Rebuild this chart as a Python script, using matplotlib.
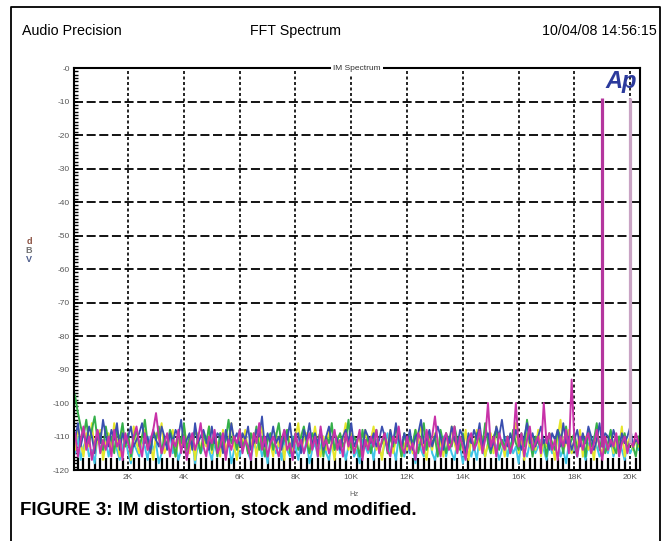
import numpy as np
import matplotlib
matplotlib.use('Agg')
import matplotlib.pyplot as plt
from matplotlib.lines import Line2D
from matplotlib.ticker import MultipleLocator

plt.rcParams['font.family'] = ['Liberation Sans', 'DejaVu Sans']

# frequency grid (Hz) of the analyser traces, 100 Hz bins
freq = np.arange(0, 20301, 100)

cyan = [-112,-115,-110,-117,-113,-111,-116,-114,-118,-110,-113,-115,
        -111,-116,-112,-109,-114,-117,-113,-110,-115,-118,-112,-114,
        -116,-111,-113,-117,-110,-114,-112,-118,-115,-111,-113,-109,
        -115,-112,-117,-114,-110,-116,-113,-111,-118,-112,-115,-113,
        -110,-114,-117,-112,-115,-109,-113,-116,-111,-118,-114,-112,
        -116,-113,-110,-115,-117,-112,-114,-111,-116,-113,-118,-110,
        -113,-115,-112,-117,-111,-114,-116,-110,-113,-117,-112,-115,
        -111,-118,-114,-112,-116,-113,-110,-115,-117,-112,-114,-111,
        -115,-112,-117,-113,-110,-116,-114,-118,-111,-113,-115,-112,
        -117,-111,-114,-116,-112,-109,-115,-113,-117,-110,-114,-116,
        -112,-115,-113,-118,-111,-114,-116,-112,-110,-115,-117,-113,
        -114,-110,-116,-112,-115,-117,-111,-113,-118,-114,-112,-116,
        -113,-117,-110,-114,-116,-112,-115,-111,-113,-117,-114,-110,
        -116,-112,-115,-113,-118,-111,-114,-116,-112,-110,-115,-113,
        -111,-114,-117,-112,-115,-113,-110,-116,-114,-118,-112,-115,
        -113,-116,-111,-114,-117,-112,-115,-110,-113,-116,-114,-112,
        -115,-111,-116,-113,-110,-114,-117,-112,-115,-113,-111,-114]

yellow = [-110,-114,-107,-112,-116,-109,-113,-106,-115,-111,-108,-117,
          -112,-109,-114,-106,-111,-116,-108,-113,-110,-117,-107,-112,
          -115,-110,-108,-114,-112,-117,-109,-111,-106,-115,-113,-110,
          -108,-116,-111,-113,-107,-112,-115,-110,-117,-109,-114,-111,
          -113,-107,-115,-110,-112,-116,-108,-114,-111,-106,-113,-117,
          -110,-112,-108,-115,-113,-109,-116,-111,-107,-114,-110,-112,
          -116,-109,-113,-111,-117,-108,-112,-115,-110,-106,-114,-111,
          -109,-115,-112,-107,-113,-116,-110,-114,-108,-112,-117,-110,
          -113,-111,-106,-114,-109,-115,-112,-110,-116,-108,-113,-111,
          -107,-114,-112,-117,-110,-113,-108,-115,-111,-109,-116,-112,
          -114,-110,-115,-108,-112,-106,-113,-117,-110,-114,-109,-115,
          -111,-116,-109,-113,-107,-112,-115,-110,-114,-108,-117,-111,
          -113,-108,-114,-110,-116,-112,-109,-115,-107,-113,-111,-116,
          -110,-114,-112,-106,-115,-111,-117,-109,-113,-110,-114,-108,
          -116,-111,-113,-109,-112,-117,-110,-105,-114,-112,-108,-115,
          -111,-113,-108,-116,-110,-114,-112,-117,-109,-113,-115,-110,
          -114,-109,-115,-111,-113,-107,-116,-112,-110,-114,-111,-113]

green = [-95,-98,-103,-107,-110,-105,-112,-108,-104,-111,-109,-114,
         -107,-112,-110,-115,-108,-111,-106,-113,-109,-116,-111,-108,
         -113,-110,-105,-112,-114,-109,-111,-107,-115,-110,-113,-108,
         -111,-116,-109,-112,-106,-114,-110,-113,-108,-111,-115,-109,
         -112,-107,-114,-110,-116,-109,-113,-111,-105,-112,-110,-114,
         -108,-113,-111,-115,-109,-112,-107,-114,-110,-116,-111,-109,
         -114,-110,-106,-113,-111,-108,-115,-112,-109,-114,-110,-107,
         -112,-115,-109,-111,-113,-108,-116,-110,-112,-106,-114,-111,
         -109,-113,-111,-105,-114,-110,-112,-116,-108,-113,-110,-115,
         -111,-108,-114,-112,-109,-115,-110,-113,-107,-111,-116,-109,
         -113,-110,-112,-108,-115,-111,-106,-114,-109,-112,-110,-116,
         -108,-112,-115,-110,-113,-107,-111,-114,-109,-116,-112,-110,
         -114,-109,-111,-113,-106,-112,-115,-110,-108,-114,-111,-113,
         -110,-115,-108,-112,-114,-109,-113,-105,-111,-116,-110,-112,
         -113,-111,-116,-109,-112,-114,-108,-110,-115,-107,-113,-111,
         -109,-114,-112,-110,-116,-108,-113,-111,-106,-114,-110,-115,
         -112,-108,-113,-115,-110,-112,-109,-114,-111,-113,-116,-110]

blue = [-108,-111,-106,-113,-109,-112,-107,-110,-115,-108,-112,-105,
        -110,-113,-108,-111,-106,-114,-109,-112,-110,-107,-113,-111,
        -109,-106,-112,-110,-115,-108,-111,-113,-107,-110,-114,-109,
        -112,-108,-110,-105,-113,-111,-109,-114,-106,-112,-110,-108,
        -111,-114,-107,-112,-109,-110,-115,-108,-113,-106,-111,-109,
        -113,-109,-111,-107,-114,-112,-108,-110,-104,-113,-109,-112,
        -107,-112,-110,-114,-108,-111,-106,-113,-110,-109,-115,-108,
        -111,-106,-113,-109,-112,-108,-114,-110,-107,-112,-109,-111,
        -114,-110,-108,-112,-106,-113,-111,-109,-115,-108,-110,-112,
        -109,-113,-111,-107,-110,-114,-108,-112,-106,-111,-113,-109,
        -112,-108,-114,-110,-109,-105,-112,-111,-108,-113,-110,-107,
        -110,-114,-109,-112,-107,-111,-113,-108,-110,-115,-109,-112,
        -108,-111,-106,-113,-110,-109,-114,-112,-107,-110,-105,-111,
        -113,-109,-112,-108,-111,-114,-110,-106,-112,-109,-113,-110,
        -107,-112,-110,-114,-109,-111,-108,-113,-106,-112,-110,-114,
        -111,-108,-113,-109,-112,-107,-110,-114,-111,-106,-113,-109,
        -110,-113,-108,-111,-114,-109,-112,-110,-107,-113,-111,-112]

magenta = [-113,-109,-116,-111,-107,-114,-110,-117,-112,-108,-115,-111,
           -114,-110,-116,-108,-113,-111,-117,-109,-112,-115,-110,-107,
           -112,-116,-109,-114,-111,-108,-103,-110,-115,-112,-109,-116,
           -111,-113,-108,-115,-110,-117,-112,-109,-114,-111,-106,-113,
           -116,-110,-112,-108,-115,-113,-109,-117,-111,-114,-110,-112,
           -108,-115,-111,-113,-117,-109,-112,-106,-114,-110,-116,-112,
           -110,-113,-116,-111,-108,-114,-112,-117,-109,-113,-111,-115,
           -112,-109,-114,-110,-116,-107,-113,-111,-115,-112,-108,-114,
           -111,-116,-109,-113,-110,-115,-112,-108,-117,-111,-114,-110,
           -113,-108,-115,-111,-109,-114,-116,-110,-112,-107,-113,-115,
           -110,-114,-112,-117,-109,-111,-115,-108,-113,-110,-104,-112,
           -116,-111,-109,-114,-112,-107,-115,-110,-113,-117,-111,-109,
           -114,-112,-108,-115,-111,-100,-113,-110,-116,-109,-112,-114,
           -110,-115,-112,-100,-113,-109,-116,-111,-107,-114,-112,-110,
           -115,-100,-112,-109,-114,-111,-117,-110,-113,-108,-115,-93,
           -112,-116,-110,-114,-111,-109,-115,-112,-108,-113,-117,-110,
           -114,-111,-113,-109,-116,-112,-110,-115,-111,-113,-109,-112]

# the two IM test tones
tone_freq = [19000, 20000]
tone_top = [-9, -9]
tone_base = [-113, -112]
tone_color = ['#b4369e', '#c9a3c4']

x_ticks = [2000, 4000, 6000, 8000, 10000, 12000, 14000, 16000, 18000, 20000]
x_labels = ['2K', '4K', '6K', '8K', '10K', '12K', '14K', '16K', '18K', '20K']
y_ticks = [0, -10, -20, -30, -40, -50, -60, -70, -80, -90, -100, -110, -120]
y_labels = ['-0', '-10', '-20', '-30', '-40', '-50', '-60', '-70', '-80', '-90', '-100', '-110', '-120']

fig = plt.figure(figsize=(6.65, 5.41), dpi=100)
ax = fig.add_axes([0.1113, 0.1312, 0.8511, 0.7431])

ax.plot(freq, cyan, color='#3ec4e8', lw=1.4)
ax.plot(freq, yellow, color='#e6e62a', lw=1.4)
ax.plot(freq, green, color='#35b04a', lw=1.4)
ax.plot(freq, blue, color='#3a4fb0', lw=1.3)
ax.plot(freq, magenta, color='#c832a8', lw=1.4)
ax.vlines(tone_freq, tone_base, tone_top, colors=tone_color, lw=2.3)

ax.set_xlim(60, 20350)
ax.set_ylim(-120, 0)

for y in y_ticks[1:-1]:
    ax.axhline(y, color='black', lw=1.3, dashes=(5, 2), zorder=1.5)
for x in x_ticks:
    ax.axvline(x, color='black', lw=1.2, dashes=(1.8, 1.5), zorder=1.5)

ax.set_xticks(x_ticks)
ax.set_xticklabels(x_labels)
ax.set_yticks(y_ticks)
ax.set_yticklabels(y_labels)
ax.xaxis.set_minor_locator(MultipleLocator(200))
ax.yaxis.set_minor_locator(MultipleLocator(1))
ax.tick_params(axis='both', which='major', direction='in', labelsize=6,
               labelcolor='#555555', length=3, width=1.2, pad=3)
ax.tick_params(axis='x', which='minor', direction='in', length=9, width=1.6)
ax.tick_params(axis='y', which='minor', direction='in', length=3, width=1.0)
for s in ax.spines.values():
    s.set_linewidth(1.5)

ax.text(0.5, 1.0, 'IM Spectrum', transform=ax.transAxes, ha='center', va='center',
        fontsize=6, color='#333333',
        bbox=dict(facecolor='white', edgecolor='none', pad=1.5))
ax.text(0.995, 0.995, 'Ap', transform=ax.transAxes, ha='right', va='top',
        fontsize=17, fontweight='heavy', fontstyle='italic', color='#2b3a9c')

fig.text(22/665, 1 - 31/541, 'Audio Precision', ha='left', va='center', fontsize=10.3)
fig.text(295/665, 1 - 31/541, 'FFT Spectrum', ha='center', va='center', fontsize=10.3)
fig.text(657/665, 1 - 31/541, '10/04/08 14:56:15', ha='right', va='center', fontsize=10.3)
fig.text(354/665, 1 - 494/541, 'Hz', ha='center', va='center', fontsize=5.5, color='#666666')
for ch, yy, col in [('d', 242, '#8a5040'), ('B', 250, '#707070'), ('V', 259, '#4a5a8a')]:
    fig.text(29/665, 1 - yy/541, ch, ha='center', va='center', fontsize=6.5,
             color=col, fontweight='bold')
fig.text(20/665, 1 - 511/541, 'FIGURE 3: IM distortion, stock and modified.',
         ha='left', va='center', fontsize=13.5, fontweight='bold')

# outer frame (open at the bottom)
fig.add_artist(Line2D([11/665, 11/665, 660/665, 660/665],
                      [0, 1 - 7/541, 1 - 7/541, 0],
                      transform=fig.transFigure, color='black', lw=1.3))

fig.savefig('out.png', dpi=100)
